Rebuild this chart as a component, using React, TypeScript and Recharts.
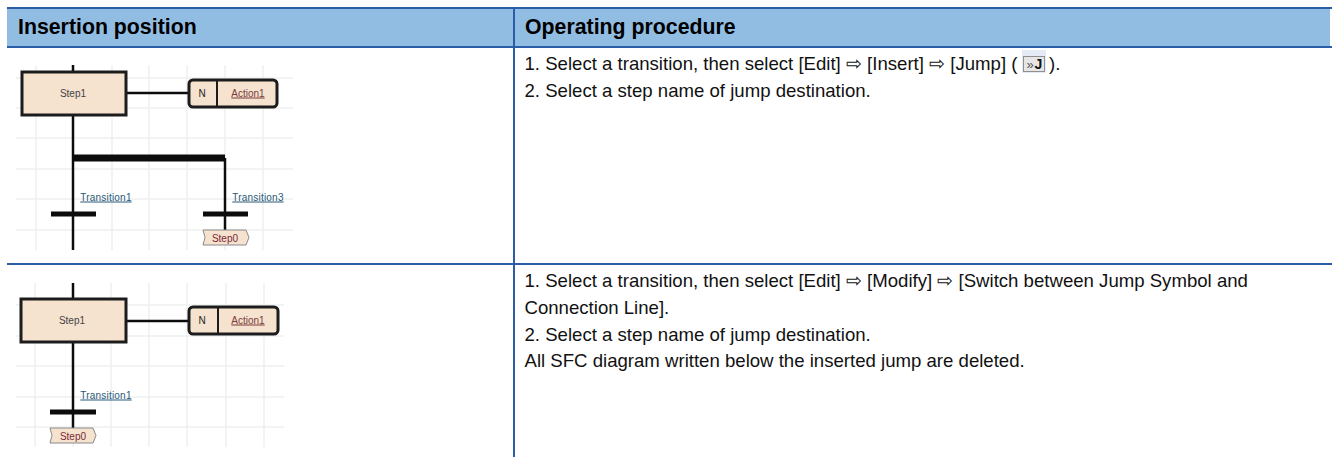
import React from "react";
import { ComposedChart, XAxis, YAxis, Scatter, ReferenceArea, ReferenceLine } from "recharts";

const W = 1332;
const H = 457;
const BLUE = "#2b5ca8";
const BAND = "#92bde3";
const PEACH = "#f5e2cf";
const INK = "#1c1c1c";
const GRID = "#eef0f0";
const SANS = "'Liberation Sans', Arial, sans-serif";

const headers = [
  { x: 18, y: 34, text: "Insertion position" },
  { x: 525, y: 34, text: "Operating procedure" },
];
const procedureLines = [
  { x: 524.5, y: 69.5, text: "1. Select a transition, then select [Edit] ⇨ [Insert] ⇨ [Jump] (" },
  { x: 1049, y: 69.5, text: ")." },
  { x: 524.5, y: 96.5, text: "2. Select a step name of jump destination." },
  { x: 524.5, y: 287, text: "1. Select a transition, then select [Edit] ⇨ [Modify] ⇨ [Switch between Jump Symbol and" },
  { x: 524.5, y: 314, text: "Connection Line]." },
  { x: 524.5, y: 341, text: "2. Select a step name of jump destination." },
  { x: 524.5, y: 367, text: "All SFC diagram written below the inserted jump are deleted." },
];
const diagramLabels = [
  { x: 73, y: 96.5, text: "Step1", fill: "#444444", underline: false },
  { x: 202, y: 96.5, text: "N", fill: "#222222", underline: false },
  { x: 248, y: 96.5, text: "Action1", fill: "#7a3b3b", underline: true },
  { x: 106, y: 200.5, text: "Transition1", fill: "#2a5a78", underline: true },
  { x: 258, y: 200.5, text: "Transition3", fill: "#2a5a78", underline: true },
  { x: 225, y: 241.5, text: "Step0", fill: "#7a2a35", underline: false },
  { x: 72, y: 323.5, text: "Step1", fill: "#444444", underline: false },
  { x: 202, y: 323.5, text: "N", fill: "#222222", underline: false },
  { x: 248, y: 323.5, text: "Action1", fill: "#7a3b3b", underline: true },
  { x: 106, y: 398.5, text: "Transition1", fill: "#2a5a78", underline: true },
  { x: 73, y: 439.5, text: "Step0", fill: "#7a2a35", underline: false },
];
const tags = [
  { x: 203, y: 230 },
  { x: 50, y: 428 },
];
const icon = [{ x: 1022, y: 50 }];

const gridRows1 = [78, 108, 138, 169, 199, 230];
const gridCols1 = [36, 73, 112, 149, 187, 225, 263];
const gridRows2 = [305, 336, 366, 397, 427];
const gridCols2 = [35, 73, 111, 149, 187, 226, 264];

const tableRules = [
  { x1: 7, y1: 8, x2: 1332, y2: 8, w: 2 },
  { x1: 7, y1: 47, x2: 1332, y2: 47, w: 2 },
  { x1: 7, y1: 264, x2: 1332, y2: 264, w: 2 },
  { x1: 514, y1: 8, x2: 514, y2: 457, w: 2 },
];
const diagramStrokes = [
  { x1: 73, y1: 65, x2: 73, y2: 72, w: 2.5 },
  { x1: 73, y1: 116, x2: 73, y2: 250, w: 2.5 },
  { x1: 127, y1: 93, x2: 188, y2: 93, w: 2.5 },
  { x1: 74, y1: 158, x2: 225, y2: 158, w: 7 },
  { x1: 225, y1: 158, x2: 225, y2: 230, w: 2.5 },
  { x1: 51, y1: 214, x2: 96, y2: 214, w: 5 },
  { x1: 203, y1: 214, x2: 248, y2: 214, w: 5 },
  { x1: 73, y1: 283, x2: 73, y2: 299, w: 2.5 },
  { x1: 73, y1: 343, x2: 73, y2: 428, w: 2.5 },
  { x1: 127, y1: 321, x2: 188, y2: 321, w: 2.5 },
  { x1: 50, y1: 412, x2: 96, y2: 412, w: 5 },
];
const boxes = [
  { x: 22, y: 72, bw: 104, bh: 43, r: 0, split: 0 },
  { x: 189, y: 80, bw: 88, bh: 27, r: 4, split: 28 },
  { x: 21, y: 299, bw: 105, bh: 43, r: 0, split: 0 },
  { x: 189, y: 307, bw: 89, bh: 27, r: 4, split: 29 },
];

const seg = (x1: number, y1: number, x2: number, y2: number, stroke: string, w: number, key: string) => (
  <ReferenceLine
    key={key}
    segment={[{ x: x1, y: y1 }, { x: x2, y: y2 }]}
    stroke={stroke}
    strokeWidth={w}
    ifOverflow="visible"
  />
);

const HeaderText = (p: any) => (
  <text x={p.cx} y={p.cy} fontFamily={SANS} fontSize={21.3} fontWeight={700} fill="#000">
    {p.payload.text}
  </text>
);
const BodyText = (p: any) => (
  <text x={p.cx} y={p.cy} fontFamily={SANS} fontSize={18.6} fill="#111">
    {p.payload.text}
  </text>
);
const SmallText = (p: any) => (
  <text
    x={p.cx}
    y={p.cy}
    textAnchor="middle"
    fontFamily={SANS}
    fontSize={10}
    letterSpacing={p.payload.text.startsWith("Transition") ? 0.2 : 0}
    fill={p.payload.fill}
    textDecoration={p.payload.underline ? "underline" : undefined}
  >
    {p.payload.text}
  </text>
);
const Box = (p: any) => {
  const { cx: x, cy: y } = p;
  const { bw, bh, r, split } = p.payload;
  return (
    <g>
      <rect x={x} y={y} width={bw} height={bh} rx={r} ry={r} fill={PEACH} stroke={INK} strokeWidth={3} />
      {split > 0 && <line x1={x + split} y1={y} x2={x + split} y2={y + bh} stroke={INK} strokeWidth={2} />}
    </g>
  );
};
const Tag = (p: any) => {
  const { cx: x, cy: y } = p;
  const d = `M${x},${y} L${x + 43},${y} L${x + 46},${y + 7.5} L${x + 43},${y + 15} L${x},${y + 15} L${x + 2},${y + 7.5} Z`;
  return <path d={d} fill={PEACH} stroke="#8a8a8a" strokeWidth={1} />;
};
const Icon = (p: any) => {
  const { cx: x, cy: y } = p;
  return (
    <g>
      <rect x={x} y={y} width={24} height={23} fill="#e4ebf4" />
      <rect x={x + 1.5} y={y + 6.5} width={21} height={15} fill="#e6e6e6" stroke="#8f8f8f" />
      <text x={x + 4.5} y={y + 18.5} fontFamily={SANS} fontSize={13} fill="#555">»</text>
      <text x={x + 12.5} y={y + 19} fontFamily={SANS} fontSize={14} fontWeight={700} fill="#111">J</text>
    </g>
  );
};

export default function App() {
  return (
    <div style={{ position: "absolute", left: 0, top: 0, width: W, height: H, background: "#fff" }}>
      <ComposedChart width={W} height={H} margin={{ top: 0, right: 0, bottom: 0, left: 0 }}>
        <XAxis type="number" dataKey="x" domain={[0, W]} hide allowDataOverflow />
        <YAxis type="number" dataKey="y" domain={[0, H]} reversed hide allowDataOverflow />

        <ReferenceArea x1={7} x2={1330} y1={8} y2={47} fill={BAND} fillOpacity={1} stroke="none" ifOverflow="visible" />

        {gridRows1.map((y) => seg(16, y, 293, y, GRID, 1.5, `gr1-${y}`))}
        {gridCols1.map((x) => seg(x, 65, x, 250, GRID, 1.5, `gc1-${x}`))}
        {gridRows2.map((y) => seg(16, y, 284, y, GRID, 1.5, `gr2-${y}`))}
        {gridCols2.map((x) => seg(x, 283, x, 447, GRID, 1.5, `gc2-${x}`))}

        {tableRules.map((r, i) => seg(r.x1, r.y1, r.x2, r.y2, BLUE, r.w, `rule-${i}`))}
        {diagramStrokes.map((s, i) => seg(s.x1, s.y1, s.x2, s.y2, "#0c0c0c", s.w, `st-${i}`))}

        <Scatter data={boxes} isAnimationActive={false} shape={Box} />
        <Scatter data={tags} isAnimationActive={false} shape={Tag} />
        <Scatter data={icon} isAnimationActive={false} shape={Icon} />
        <Scatter data={headers} isAnimationActive={false} shape={HeaderText} />
        <Scatter data={procedureLines} isAnimationActive={false} shape={BodyText} />
        <Scatter data={diagramLabels} isAnimationActive={false} shape={SmallText} />
      </ComposedChart>
    </div>
  );
}
